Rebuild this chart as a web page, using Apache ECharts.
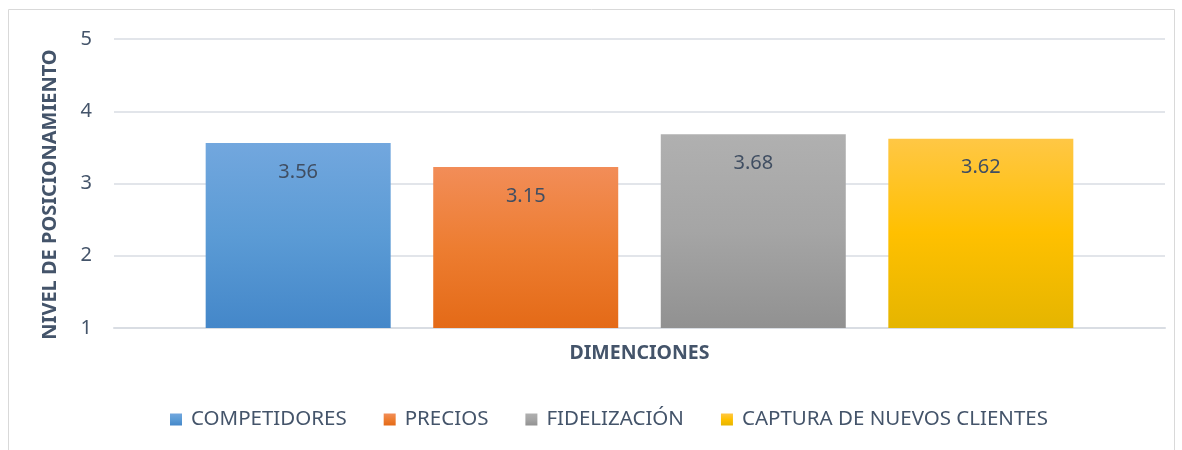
<!DOCTYPE html>
<html>
<head>
<meta charset="utf-8">
<script src="https://cdn.jsdelivr.net/npm/echarts@6/dist/echarts.min.js"></script>
<style>
  html, body { margin: 0; padding: 0; background: #fff; }
  #chart { width: 1182px; height: 450px; }
</style>
</head>
<body>
<div id="chart"></div>
<script>
// datos del gráfico
var categorias = ['DIMENCIONES'];
var series = ['COMPETIDORES', 'PRECIOS', 'FIDELIZACIÓN', 'CAPTURA DE NUEVOS CLIENTES'];
var valores = [3.56, 3.23, 3.68, 3.62];        // altura de barra
var etiquetas = ['3.56', '3.15', '3.68', '3.62']; // texto que muestra cada barra
var ticksY = [1, 2, 3, 4, 5];

// degradados tipo Excel (arriba, medio, abajo)
var colores = [
  ['#72a7de', '#5b9bd5', '#4487c9'],
  ['#f28d58', '#ed7d31', '#e46a17'],
  ['#b0b0b0', '#a5a5a5', '#919191'],
  ['#ffc745', '#ffc000', '#e5b500']
];

var textColor = '#44546a';
var fuente = 'Noto Sans';

var chart = echarts.init(document.getElementById('chart'));

var serieData = series.map(function (nombre, i) {
  return {
    name: nombre,
    type: 'bar',
    barWidth: 185,
    barGap: '23%',
    data: [valores[i]],
    itemStyle: {
      color: {
        type: 'linear', x: 0, y: 0, x2: 0, y2: 1,
        colorStops: [
          { offset: 0, color: colores[i][0] },
          { offset: 0.5, color: colores[i][1] },
          { offset: 1, color: colores[i][2] }
        ]
      }
    },
    label: {
      show: true,
      position: 'insideTop',
      distance: 19,
      fontFamily: fuente,
      fontSize: 20,
      color: '#404e62',
      formatter: function () { return etiquetas[i]; }
    }
  };
});

chart.setOption({
  animation: false,
  textStyle: { fontFamily: fuente },
  graphic: [{
    type: 'rect',
    shape: { x: 8.5, y: 9.5, width: 1166, height: 460 },
    style: { fill: 'none', stroke: '#d9d9d9', lineWidth: 1 },
    silent: true
  }],
  grid: { left: 114, right: 17, top: 39, bottom: 122 },
  legend: {
    top: 404,
    left: 165,
    itemWidth: 12,
    itemHeight: 12,
    itemGap: 37,
    icon: 'rect',
    textStyle: { fontFamily: fuente, fontSize: 20.5, color: textColor, padding: [0, 0, 0, 4] },
    data: series
  },
  xAxis: {
    type: 'category',
    data: categorias,
    name: 'DIMENCIONES',
    nameLocation: 'middle',
    nameGap: 15,
    nameTextStyle: { fontFamily: fuente, fontSize: 19.5, fontWeight: 'bold', color: textColor },
    axisLine: { show: true, lineStyle: { color: '#d9dde3', width: 2 } },
    axisTick: { show: false },
    axisLabel: { show: false }
  },
  yAxis: {
    type: 'value',
    min: ticksY[0],
    max: ticksY[ticksY.length - 1],
    interval: 1,
    name: 'NIVEL DE POSICIONAMIENTO',
    nameLocation: 'middle',
    nameGap: 54,
    nameTextStyle: { fontFamily: fuente, fontSize: 20, fontWeight: 'bold', color: textColor, padding: [0, 22, 0, 0] },
    axisLine: { show: false },
    axisTick: { show: false },
    axisLabel: { fontFamily: fuente, fontSize: 20, color: textColor, margin: 22 },
    splitLine: { lineStyle: { color: '#d9dde3', width: 1.5 } }
  },
  series: serieData
});
</script>
</body>
</html>
